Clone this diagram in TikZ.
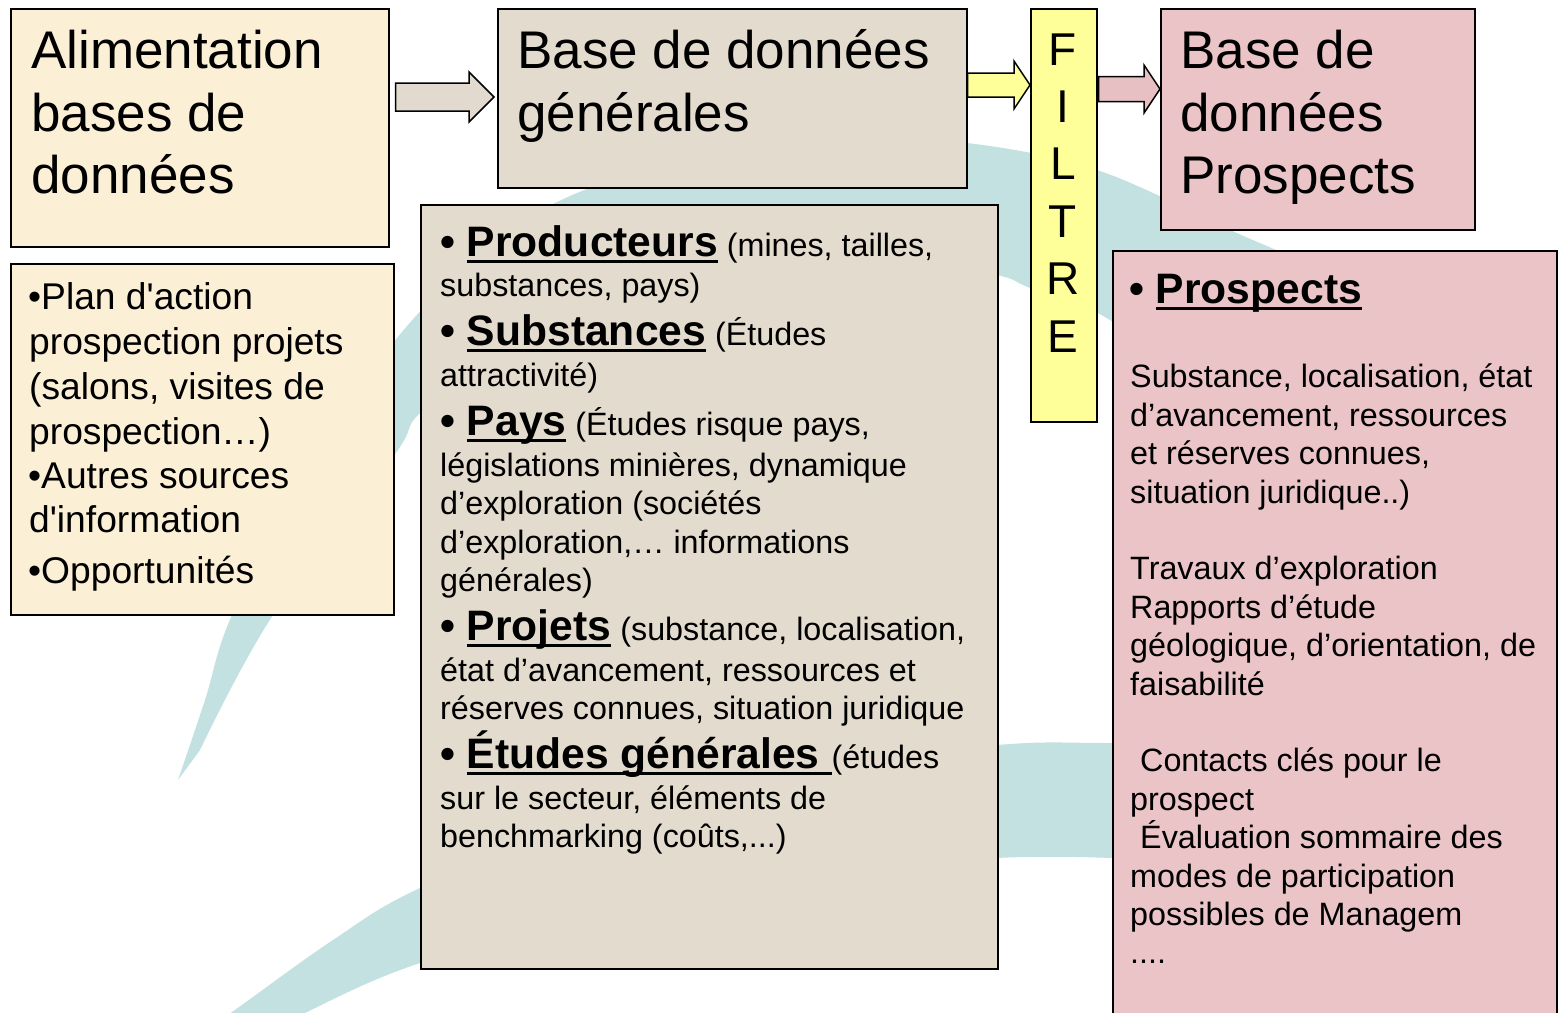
\documentclass[tikz,border=0pt]{standalone}
\usepackage{fontspec}
\setmainfont{Liberation Sans}
\usetikzlibrary{calc}
\definecolor{swoosh}{HTML}{C4E1E1}
\definecolor{cream}{HTML}{FBEFD5}
\definecolor{beige}{HTML}{E3DBCD}
\definecolor{pinkbox}{HTML}{EAC4C6}
\definecolor{yell}{HTML}{FFFF99}
\definecolor{arrbeige}{HTML}{E2DACE}
\definecolor{arrpink}{HTML}{E6C0C3}
\newsavebox\ulbox
\newcommand\myul[1]{\sbox\ulbox{#1}\rlap{\rule[-7pt]{\wd\ulbox}{3.5pt}}\usebox\ulbox}
\newcommand\hd[1]{{\fontsize{42.6}{48}\selectfont\bfseries • \myul{#1}}}
\newcommand\sq{\textquotesingle}
\newcommand\blockarrow[9]{%
  \coordinate (yc) at (0,#3);
  \draw[line width=1.5pt, line join=miter, fill=#9]
    ($(#1.east|-yc)+(#7,-#4)$) -- ($(#2.west|-yc)+(-#6-#8,-#4)$) --
    ($(#2.west|-yc)+(-#6-#8,-#5)$) -- ($(#2.west|-yc)+(-#8,0)$) --
    ($(#2.west|-yc)+(-#6-#8,#5)$) -- ($(#2.west|-yc)+(-#6-#8,#4)$) --
    ($(#1.east|-yc)+(#7,#4)$) -- cycle;}
\tikzset{
  box/.style={draw=black, line width=1.5pt, inner sep=0pt, anchor=north west},
  ttl/.style={anchor=base west, inner sep=0pt, font=\fontsize{53}{62}\selectfont},
  bodytxt/.style={anchor=base west, inner sep=0pt, font=\fontsize{32.3}{38}\selectfont},
  lefttxt/.style={anchor=base west, inner sep=0pt, font=\fontsize{37.2}{45}\selectfont},
  filt/.style={anchor=base, inner sep=0pt, font=\fontsize{46}{55}\selectfont},
}
\begin{document}
\begin{tikzpicture}[x=1pt, y=-1pt]
\useasboundingbox (0,0) rectangle (1558,1012);
\clip (0,0) rectangle (1558,1012);
\fill[white] (0,0) rectangle (1558,1012);
% background swooshes
\fill[swoosh] plot[smooth, tension=0.6] coordinates {(178,780) (205,700) (232,615) (305,475) (393,343) (480,255) (570,196) (700,158) (850,140) (967,143) (1097,170) (1230,230) (1300,262) (1420,330)}
  -- (1460,420) --
  plot[smooth, tension=0.6] coordinates {(1300,450) (1110,320) (1030,288) (997,275) (900,258) (800,257) (700,270) (600,300) (500,350) (420,413) (393,457) (273,615) (200,750)} -- cycle;
\fill[swoosh] plot[smooth, tension=0.6] coordinates {(190,1040) (232,1012) (333,940) (420,888) (600,815) (800,768) (997,745) (1110,743) (1300,745)}
  -- (1300,858) --
  plot[smooth, tension=0.6] coordinates {(1110,858) (997,858) (800,875) (600,915) (420,963) (307,1012) (260,1040)} -- cycle;
% boxes
\node[box, fill=cream, minimum width=378pt, minimum height=238pt] (alim) at (10,8) {};
\node[box, fill=beige, minimum width=469pt, minimum height=179pt] (gen) at (497,8) {};
\node[box, fill=yell, minimum width=66pt, minimum height=413pt] (filt) at (1030,8) {};
\node[box, fill=pinkbox, minimum width=314pt, minimum height=221pt] (pro) at (1160,8) {};
\node[box, fill=cream, minimum width=383pt, minimum height=351pt] (plan) at (10,263) {};
\node[box, fill=beige, minimum width=577pt, minimum height=764pt] (genlist) at (420,204) {};
\node[box, fill=pinkbox, minimum width=444pt, minimum height=800pt] (prolist) at (1112,250) {};
% block arrows
\blockarrow{alim}{gen}{97}{14}{25}{25}{6}{3}{arrbeige}
\blockarrow{gen}{filt}{85}{12}{24}{16}{0}{0}{yell}
\blockarrow{filt}{pro}{89}{12.5}{24}{16}{1}{0}{arrpink}
% titles
\node[ttl] (alimA) at (31,68) {Alimentation};
\node[ttl] (alimB) at (31,131) {bases de};
\node[ttl] (alimC) at (31,193) {données};
\node[ttl] (genA) at (517,68) {Base de données};
\node[ttl] (genB) at (517,131) {générales};
\node[ttl] (proA) at (1180,68) {Base de};
\node[ttl] (proB) at (1180,131) {données};
\node[ttl] (proC) at (1180,193) {Prospects};
% filtre
\foreach \l [count=\i] in {F,I,L,T,R,E}
  \node[filt] (f\i) at (1063, 65+57.4*\i-57.4) {\l};
% left list
\node[lefttxt] (l1) at (28,309) {•Plan d\sq action};
\node[lefttxt] (l2) at (29,354) {prospection projets};
\node[lefttxt] (l3) at (29,399) {(salons, visites de};
\node[lefttxt] (l4) at (29,444) {prospection…)};
\node[lefttxt] (l5) at (28,488) {•Autres sources};
\node[lefttxt] (l6) at (29,532) {d\sq information};
\node[lefttxt] (l7) at (28,583) {•Opportunités};
% middle list
\node[bodytxt] (m1) at (440,256) {\hd{Producteurs} (mines, tailles,};
\node[bodytxt] (m2) at (440,296) {substances, pays)};
\node[bodytxt] (m3) at (440,345) {\hd{Substances} (Études};
\node[bodytxt] (m4) at (440,386) {attractivité)};
\node[bodytxt] (m5) at (440,435) {\hd{Pays} (Études risque pays,};
\node[bodytxt] (m6) at (440,476) {législations minières, dynamique};
\node[bodytxt] (m7) at (440,514) {d’exploration (sociétés};
\node[bodytxt] (m8) at (440,553) {d’exploration,… informations};
\node[bodytxt] (m9) at (440,591) {générales)};
\node[bodytxt] (m10) at (440,640) {\hd{Projets} (substance, localisation,};
\node[bodytxt] (m11) at (440,681) {état d’avancement, ressources et};
\node[bodytxt] (m12) at (440,719) {réserves connues, situation juridique};
\node[bodytxt] (m13) at (440,768) {{\fontsize{42.6}{48}\selectfont\bfseries • \myul{Études générales\ }}(études};
\node[bodytxt] (m14) at (440,809) {sur le secteur, éléments de};
\node[bodytxt] (m15) at (440,847) {benchmarking (coûts,...)};
% right list
\node[bodytxt] (r0) at (1129,303) {\hd{Prospects}};
\node[bodytxt] (r1) at (1130,387) {Substance, localisation, état};
\node[bodytxt] (r2) at (1130,426) {d’avancement, ressources};
\node[bodytxt] (r3) at (1130,464) {et réserves connues,};
\node[bodytxt] (r4) at (1130,503) {situation juridique..)};
\node[bodytxt] (r5) at (1130,579) {Travaux d’exploration};
\node[bodytxt] (r6) at (1130,618) {Rapports d’étude};
\node[bodytxt] (r7) at (1130,656) {géologique, d’orientation, de};
\node[bodytxt] (r8) at (1130,695) {faisabilité};
\node[bodytxt] (r9) at (1140,771) {Contacts clés pour le};
\node[bodytxt] (r10) at (1130,810) {prospect};
\node[bodytxt] (r11) at (1140,848) {Évaluation sommaire des};
\node[bodytxt] (r12) at (1130,887) {modes de participation};
\node[bodytxt] (r13) at (1130,925) {possibles de Managem};
\node[bodytxt] (r14) at (1130,963) {....};
\end{tikzpicture}
\end{document}
